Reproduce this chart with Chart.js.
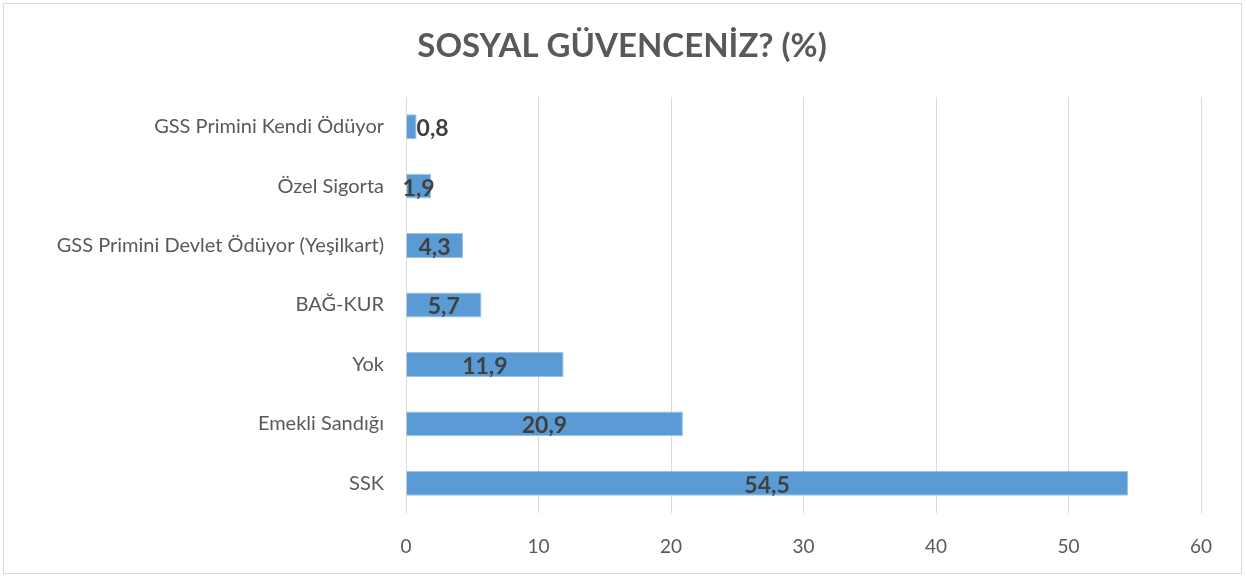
<!DOCTYPE html>
<html>
<head>
<meta charset="utf-8">
<script src="https://cdn.jsdelivr.net/npm/chart.js@4.4.1/dist/chart.umd.min.js"></script>
<style>
html,body{margin:0;padding:0;background:#fff;}
#wrap{position:absolute;left:0;top:0;width:1246px;height:579px;}
</style>
</head>
<body>
<div id="wrap"><canvas id="c" width="1246" height="579"></canvas></div>
<script>
const categories = [
  "GSS Primini Kendi Ödüyor",
  "Özel Sigorta",
  "GSS Primini Devlet Ödüyor (Yeşilkart)",
  "BAĞ-KUR",
  "Yok",
  "Emekli Sandığı",
  "SSK"
];
const values = [0.8, 1.9, 4.3, 5.7, 11.9, 20.9, 54.5];
const xTicks = [0, 10, 20, 30, 40, 50, 60];
const titleText = "SOSYAL GÜVENCENİZ? (%)";

const FONT = "Lato, 'Open Sans', sans-serif";

const framePlugin = {
  id: 'frame',
  beforeDraw(chart) {
    const ctx = chart.ctx;
    ctx.save();
    ctx.fillStyle = '#ffffff';
    ctx.fillRect(0, 0, chart.width, chart.height);
    ctx.strokeStyle = '#d9d9d9';
    ctx.lineWidth = 1;
    ctx.strokeRect(3.5, 3.5, 1238, 570);
    ctx.font = "bold 33px " + FONT;
    ctx.fillStyle = '#595959';
    ctx.textAlign = 'center';
    ctx.textBaseline = 'middle';
    ctx.fillText(titleText, 622, 46);
    ctx.restore();
  }
};

const labelPlugin = {
  id: 'barLabels',
  afterDatasetsDraw(chart) {
    const ctx = chart.ctx;
    const meta = chart.getDatasetMeta(0);
    const xs = chart.scales.x;
    ctx.save();
    ctx.font = "bold 23px " + FONT;
    ctx.fillStyle = '#404040';
    ctx.textAlign = 'center';
    ctx.textBaseline = 'middle';
    meta.data.forEach((bar, i) => {
      const v = values[i];
      const txt = v.toFixed(1).replace('.', ',');
      const x0 = xs.getPixelForValue(0);
      let cx = (x0 + bar.x) / 2;
      const w = ctx.measureText(txt).width;
      if (v < 1) cx = Math.max(cx, bar.x + w / 2 + 0);
      ctx.fillText(txt, cx, bar.y + 2);
    });
    ctx.restore();
  }
};

new Chart(document.getElementById('c'), {
  type: 'bar',
  data: {
    labels: categories,
    datasets: [{
      data: values,
      backgroundColor: '#5b9bd5',
      borderColor: '#9dc3e6',
      borderWidth: 1,
      barPercentage: 0.42,
      categoryPercentage: 1.0
    }]
  },
  options: {
    indexAxis: 'y',
    responsive: false,
    animation: false,
    devicePixelRatio: 1,
    layout: { padding: { left: 0, right: 45, top: 97, bottom: 0 } },
    plugins: {
      legend: { display: false },
      tooltip: { enabled: false },
      title: { display: false }
    },
    scales: {
      x: {
        min: 0,
        max: 60,
        afterBuildTicks(scale) { scale.ticks = xTicks.map(v => ({ value: v })); },
        ticks: {
          color: '#595959',
          font: { family: FONT, size: 19 },
          padding: 22,
          maxRotation: 0
        },
        grid: { color: '#d9d9d9', lineWidth: 1, drawTicks: false },
        border: { display: false },
        afterFit(scale) { scale.height = 66; }
      },
      y: {
        ticks: {
          color: '#595959',
          font: { family: FONT, size: 20 },
          padding: 22
        },
        grid: { display: false, drawTicks: false },
        border: { display: false },
        afterFit(scale) { scale.width = 406; }
      }
    }
  },
  plugins: [framePlugin, labelPlugin]
});
</script>
</body>
</html>
